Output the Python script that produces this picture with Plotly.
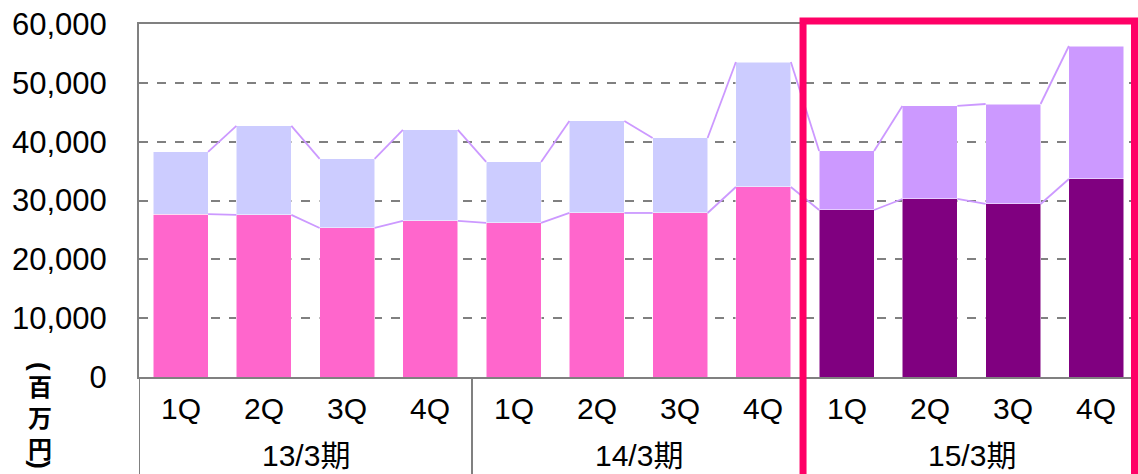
import plotly.graph_objects as go

quarters = ["1Q", "2Q", "3Q", "4Q"] * 3
periods = ["13/3期", "14/3期", "15/3期"]
bottom_vals = [27700, 27550, 25330, 26520, 26180, 27880, 27880, 32300, 28390, 30260, 29410, 33660]
total_vals = [38250, 42670, 37060, 41990, 36550, 43520, 40630, 53540, 38420, 46070, 46400, 56260]
top_vals = [t - b for t, b in zip(total_vals, bottom_vals)]
y_ticks = [0, 10000, 20000, 30000, 40000, 50000, 60000]

bottom_colors = ["#FF66CC"] * 8 + ["#800080"] * 4
top_colors = ["#CCCCFF"] * 8 + ["#CC99FF"] * 4

n = len(quarters)
xs = list(range(n))
bw = 0.66

fig = go.Figure()
fig.add_trace(go.Bar(x=xs, y=bottom_vals, width=bw, marker=dict(color=bottom_colors, line=dict(color="white", width=0.5)), showlegend=False))
fig.add_trace(go.Bar(x=xs, y=top_vals, width=bw, marker=dict(color=top_colors, line=dict(color="white", width=0.5)), showlegend=False))

def series_line(vals):
    lx, ly = [], []
    for i in range(n - 1):
        lx += [i + bw / 2, i + 1 - bw / 2, None]
        ly += [vals[i], vals[i + 1], None]
    return lx, ly

for vals in (bottom_vals, total_vals):
    lx, ly = series_line(vals)
    fig.add_trace(go.Scatter(x=lx, y=ly, mode="lines", line=dict(color="#CC99FF", width=1.8), showlegend=False, hoverinfo="skip"))

annotations = []
for i, q in enumerate(quarters):
    annotations.append(dict(x=i, y=-0.088, xref="x", yref="paper", text=q, showarrow=False,
                            font=dict(size=30, color="black"), xanchor="center", yanchor="middle"))
for g, p in enumerate(periods):
    annotations.append(dict(x=g * 4 + 1.5, y=-0.222, xref="x", yref="paper", text=p, showarrow=False,
                            font=dict(size=30, color="black"), xanchor="center", yanchor="middle"))
cjk = "Noto Sans CJK JP"
annotations.append(dict(x=-0.0991, y=-0.1105, xref="paper", yref="paper", text="<b>百<br>万<br>円</b>",
                        showarrow=False, font=dict(size=24, color="black", family=cjk),
                        xanchor="center", yanchor="middle"))
annotations.append(dict(x=-0.0991, y=0.028, xref="paper", yref="paper", text="<b>(</b>", textangle=90,
                        showarrow=False, font=dict(size=26, color="black", family="Liberation Sans"),
                        xanchor="center", yanchor="middle"))
annotations.append(dict(x=-0.0991, y=-0.250, xref="paper", yref="paper", text="<b>)</b>", textangle=90,
                        showarrow=False, font=dict(size=26, color="black", family="Liberation Sans"),
                        xanchor="center", yanchor="middle"))

shapes = []
for g in range(4):
    shapes.append(dict(type="line", xref="x", yref="paper", x0=g * 4 - 0.5, x1=g * 4 - 0.5, y0=0, y1=-0.3,
                       line=dict(color="#808080", width=2)))
shapes.append(dict(type="rect", xref="paper", yref="paper", x0=0.6647, x1=0.9965, y0=-0.35, y1=1.0085,
                   line=dict(color="#FF0066", width=7), fillcolor="rgba(0,0,0,0)", layer="above"))

fig.update_layout(
    width=1138, height=474,
    margin=dict(l=139, r=0, t=24, b=97),
    barmode="stack", bargap=0.34,
    plot_bgcolor="white", paper_bgcolor="white",
    font=dict(family="Liberation Sans, Arial, Noto Sans CJK JP", size=30, color="black"),
    annotations=annotations, shapes=shapes,
    xaxis=dict(range=[-0.5, 11.5], showticklabels=False, showgrid=False, zeroline=False,
               showline=True, linecolor="#808080", linewidth=2, mirror=True, fixedrange=True),
    yaxis=dict(range=[0, 60000], tickvals=y_ticks, tickformat=",d", showgrid=True,
               gridcolor="#808080", griddash="dash", gridwidth=2, zeroline=False,
               showline=True, linecolor="#808080", linewidth=2,
               ticks="", ticklabelstandoff=24, tickfont=dict(size=31, color="black")),
)

fig.write_html("out.html", config={"displayModeBar": False},
               post_script="document.body.style.margin='0';document.body.style.overflow='hidden';")
